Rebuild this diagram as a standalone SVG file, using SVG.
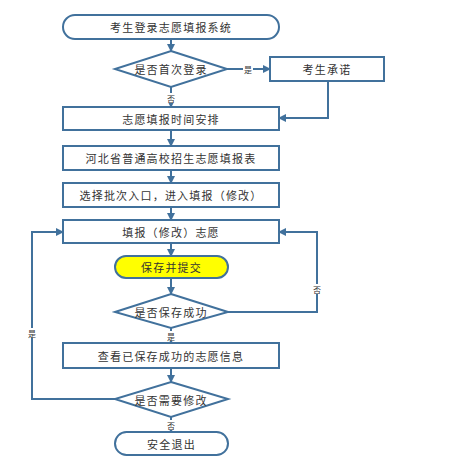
<svg xmlns="http://www.w3.org/2000/svg" width="457" height="462" viewBox="0 0 457 462">
<defs>
<marker id="ah" markerWidth="8" markerHeight="8" refX="7" refY="4" orient="auto" markerUnits="userSpaceOnUse">
<path d="M0,0 L8,4 L0,8 Z" fill="#41719c"/>
</marker>
<style>
.shape{fill:#fff;stroke:#41719c;stroke-width:2}
.yel{fill:#ffff00;stroke:#41719c;stroke-width:2}
.t{font-family:"Noto Sans CJK SC","Liberation Sans",sans-serif;font-size:11px;fill:#333;text-anchor:middle;dominant-baseline:central;letter-spacing:1.2px}
.lbl{font-family:"Noto Sans CJK SC","Liberation Sans",sans-serif;font-size:8px;fill:#333;text-anchor:middle;dominant-baseline:central}
.c{fill:none;stroke:#41719c;stroke-width:2}
.bg{fill:#fff}
</style>
</defs>
<rect width="457" height="462" fill="#fff"/>
<g id="connectors">
<path class="c" d="M171,39 V51" marker-end="url(#ah)"/>
<path class="c" d="M227,69 H270" marker-end="url(#ah)"/>
<path class="c" d="M171,87 V107" marker-end="url(#ah)"/>
<path class="c" d="M328,81 V118 H279" marker-end="url(#ah)"/>
<path class="c" d="M171,130 V146" marker-end="url(#ah)"/>
<path class="c" d="M171,170 V183" marker-end="url(#ah)"/>
<path class="c" d="M171,207 V220" marker-end="url(#ah)"/>
<path class="c" d="M171,243 V256" marker-end="url(#ah)"/>
<path class="c" d="M171,278 V294" marker-end="url(#ah)"/>
<path class="c" d="M228,312 H317 V232 H279" marker-end="url(#ah)"/>
<path class="c" d="M171,328 V343" marker-end="url(#ah)"/>
<path class="c" d="M171,368 V382" marker-end="url(#ah)"/>
<path class="c" d="M115,399 H32 V232 H63" marker-end="url(#ah)"/>
<path class="c" d="M171,417 V432" marker-end="url(#ah)"/>
<rect class="bg" x="243" y="64" width="10" height="10"/>
<text class="lbl" x="248" y="69">是</text>
<rect class="bg" x="166" y="93" width="10" height="10"/>
<text class="lbl" x="171" y="98">否</text>
<rect class="bg" x="312" y="284" width="10" height="10"/>
<text class="lbl" x="317" y="289">否</text>
<rect class="bg" x="166" y="331" width="10" height="10"/>
<text class="lbl" x="171" y="336">是</text>
<rect class="bg" x="27" y="328" width="10" height="10"/>
<text class="lbl" x="32" y="333">是</text>
<rect class="bg" x="166" y="420" width="10" height="10"/>
<text class="lbl" x="171" y="425">否</text>
</g>
<g id="start">
<rect class="shape" x="63" y="15" width="216" height="24" rx="12"/>
<text class="t" x="171" y="27">考生登录志愿填报系统</text>
</g>
<g id="firstLogin">
<polygon class="shape" points="171,51 227,69 171,87 115,69"/>
<text class="t" x="171" y="69">是否首次登录</text>
</g>
<g id="promise">
<rect class="shape" x="270" y="57" width="114" height="24"/>
<text class="t" x="327" y="69">考生承诺</text>
</g>
<g id="schedule">
<rect class="shape" x="63" y="107" width="216" height="23"/>
<text class="t" x="171" y="118.5">志愿填报时间安排</text>
</g>
<g id="form">
<rect class="shape" x="63" y="146" width="216" height="24"/>
<text class="t" x="171" y="158">河北省普通高校招生志愿填报表</text>
</g>
<g id="batch">
<rect class="shape" x="63" y="183" width="216" height="24"/>
<text class="t" x="171" y="195">选择批次入口，进入填报（修改）</text>
</g>
<g id="fill">
<rect class="shape" x="63" y="220" width="216" height="23"/>
<text class="t" x="171" y="231.5">填报（修改）志愿</text>
</g>
<g id="submit">
<rect class="yel" x="115" y="256" width="113" height="22" rx="11"/>
<text class="t" x="171.5" y="267">保存并提交</text>
</g>
<g id="saved">
<polygon class="shape" points="171,294 228,312 171,328 115,312"/>
<text class="t" x="171" y="311.5">是否保存成功</text>
</g>
<g id="view">
<rect class="shape" x="63" y="343" width="216" height="25"/>
<text class="t" x="171" y="355.5">查看已保存成功的志愿信息</text>
</g>
<g id="modify">
<polygon class="shape" points="171,382 228,399 171,417 115,399"/>
<text class="t" x="171" y="399.5">是否需要修改</text>
</g>
<g id="exit">
<rect class="shape" x="115" y="432" width="113" height="23" rx="11.5"/>
<text class="t" x="171.5" y="443.5">安全退出</text>
</g>
</svg>
